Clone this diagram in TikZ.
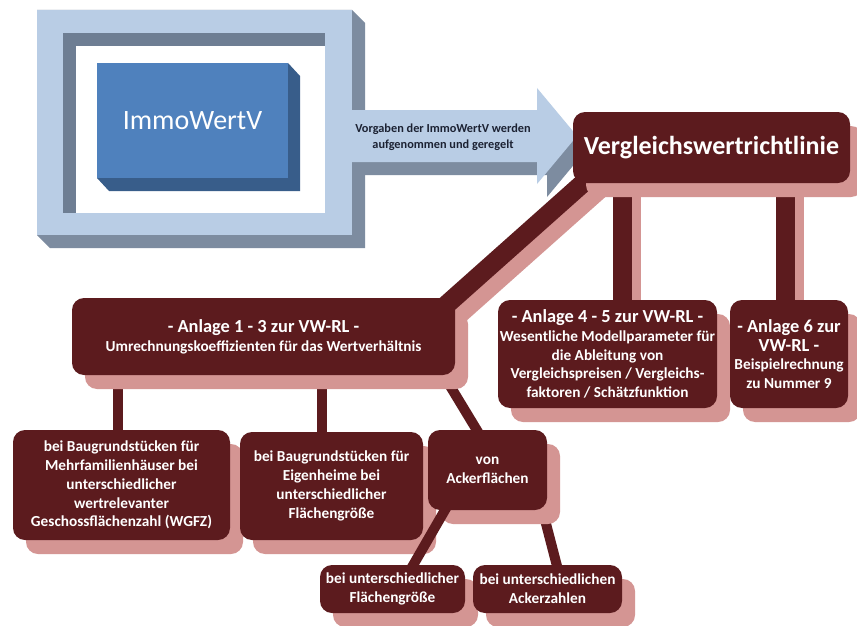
\documentclass[tikz,border=0pt]{standalone}
\usepackage{fontspec}
\setmainfont{Carlito}
\usetikzlibrary{shadows}
\definecolor{framelight}{HTML}{B9CDE5}
\definecolor{framedark}{HTML}{7D8CA0}
\definecolor{windowshade}{HTML}{6E7E93}
\definecolor{immoblue}{HTML}{4F81BD}
\definecolor{immodark}{HTML}{385D8A}
\definecolor{maroon}{HTML}{5C1B1E}
\definecolor{rosy}{HTML}{D49593}
\definecolor{notetext}{HTML}{1C2233}
\newcommand{\hdsize}{\fontsize{18.4}{22}\selectfont}
\pgfdeclarelayer{links}
\pgfsetlayers{links,main}

\begin{document}
\begin{tikzpicture}[x=1pt,y=-1pt,
  box/.style={fill=maroon,text=white,rounded corners=12pt,inner sep=0pt,align=center,
    font=\bfseries\fontsize{15.3}{18.8}\selectfont,
    drop shadow={shadow xshift=13pt,shadow yshift=-14pt,fill=rosy,opacity=1}},
  link/.style={draw=maroon,line width=19pt},
  linkshade/.style={draw=rosy,line width=19pt,transform canvas={xshift=9pt,yshift=-13pt}},
  twig/.style={draw=maroon,line width=10pt}]
\begin{pgfonlayer}{links}
\fill[white] (0,0) rectangle (857,626);
\end{pgfonlayer}
\useasboundingbox (0,0) rectangle (857,626);

\fill[framedark] (37,10) -- (352,10) -- (365,23) -- (365,248) -- (50,248) -- (37,235) -- cycle;
\fill[framelight] (37,10) rectangle (352,235);
\fill[windowshade] (63,33) rectangle (325,213);
\fill[white] (76,46) rectangle (325,213);
\fill[framedark,shift={(10,13)}] (352,110) -- (537,110) -- (537,88) -- (577,136) -- (537,184) -- (537,162) -- (352,162) -- cycle;
\fill[framelight] (352,110) -- (537,110) -- (537,88) -- (577,136) -- (537,184) -- (537,162) -- (352,162) -- cycle;
\fill[immodark] (288,63) -- (300,76) -- (300,191) -- (109,191) -- (97,178) -- (288,178) -- cycle;
\node[fill=immoblue,text=white,minimum width=191pt,minimum height=115pt,inner sep=0pt,font=\fontsize{28}{33}\selectfont] (immo) at (192.5,120.5) {ImmoWertV};
\node[font=\bfseries\fontsize{12.3}{16.5}\selectfont,text=notetext,align=center] (note) at (443,137) {Vorgaben der ImmoWertV werden\\aufgenommen und geregelt};

\node[box,minimum width=277pt,minimum height=71pt,font=\bfseries\fontsize{26}{31}\selectfont] (vwr) at (711.5,147.5) {Vergleichswertrichtlinie};
\node[box,minimum width=383pt,minimum height=77pt] (anl13) at (263.5,336.5) {{\hdsize - Anlage 1 - 3 zur VW-RL -}\\Umrechnungskoeffizienten für das Wertverhältnis};
\node[box,minimum width=219pt,minimum height=108pt] (anl45) at (607.5,354) {{\hdsize - Anlage 4 - 5 zur VW-RL -}\\Wesentliche Modellparameter für\\die Ableitung von\\Vergleichspreisen / Vergleichs-\\faktoren / Schätzfunktion};
\node[box,minimum width=118pt,minimum height=108pt] (anl6) at (789,354) {{\hdsize - Anlage 6 zur}\\{\hdsize VW-RL -}\\Beispielrechnung\\zu Nummer 9};
\node[box,minimum width=217pt,minimum height=110pt] (mfh) at (121.5,485) {bei Baugrundstücken für\\Mehrfamilienhäuser bei\\unterschiedlicher\\wertrelevanter\\Geschossflächenzahl (WGFZ)};
\node[box,minimum width=183pt,minimum height=108pt] (efh) at (331.5,486) {bei Baugrundstücken für\\Eigenheime bei\\unterschiedlicher\\Flächengröße};
\node[box,minimum width=119pt,minimum height=80pt] (acker) at (487.5,470) {von\\Ackerflächen};
\node[box,minimum width=145pt,minimum height=48pt] (flaeche) at (392.5,589) {bei unterschiedlicher\\Flächengröße};
\node[box,minimum width=149pt,minimum height=48pt] (zahl) at (547.5,589) {bei unterschiedlichen\\Ackerzahlen};
\draw[twig] ([shift={(24,-12)}]acker.south west) -- ([shift={(18.8,3.5)}]flaeche.north);

\begin{pgfonlayer}{links}
\draw[linkshade] ([shift={(27,-15)}]vwr.south west) -- ([shift={(-15,12.5)}]anl13.north east);
\draw[linkshade] ([xshift=15pt]anl45.north) -- ++(0,-120);
\draw[linkshade] ([xshift=-4pt]anl6.north) -- ++(0,-120);
\draw[link] ([shift={(27,-15)}]vwr.south west) -- ([shift={(-15,12.5)}]anl13.north east);
\draw[link] ([xshift=15pt]anl45.north) -- ++(0,-120);
\draw[link] ([xshift=-4pt]anl6.north) -- ++(0,-120);
\draw[twig] ([xshift=-3.5pt]mfh.north) -- ++(0,-60);
\draw[twig] ([xshift=-9.5pt]efh.north) -- ++(0,-60);
\draw[twig] ([shift={(-6,8)}]acker.north) -- ++(-40,-66);
\draw[twig] ([shift={(-6,-5)}]acker.south east) -- ([shift={(11,7)}]zahl.north);
\end{pgfonlayer}
\end{tikzpicture}
\end{document}
